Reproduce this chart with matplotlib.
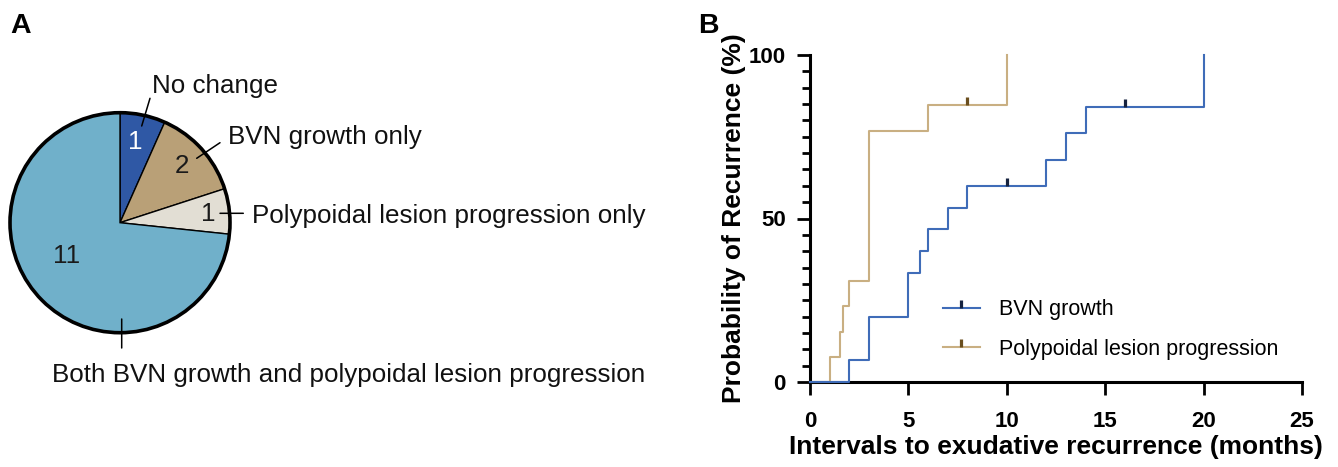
import matplotlib
matplotlib.use("Agg")
import matplotlib.pyplot as plt
from matplotlib.path import Path
from matplotlib.lines import Line2D
from matplotlib.patches import Circle
from matplotlib.ticker import MultipleLocator

plt.rcParams['font.family'] = ['Liberation Sans', 'DejaVu Sans']

# ---------------- data ----------------
pie_labels = ["No change", "BVN growth only",
              "Polypoidal lesion progression only",
              "Both BVN growth and polypoidal lesion progression"]
pie_counts = [1, 2, 1, 11]
pie_colors = ["#2F58A5", "#B9A077", "#E2DED4", "#70B0CA"]

bvn_times = [0, 2, 3, 5, 5.6, 6, 7, 8, 12, 13, 14, 20]
bvn_probs = [0, 6.67, 20, 33.3, 40, 46.7, 53.3, 60, 68, 76, 84, 100]
bvn_censor_t = [10, 16]
bvn_censor_p = [60, 84]

pol_times = [0, 1, 1.5, 1.7, 2, 3, 6, 10]
pol_probs = [0, 7.7, 15.4, 23.1, 30.8, 76.9, 84.6, 100]
pol_censor_t = [8]
pol_censor_p = [84.6]

series_names = ["BVN growth", "Polypoidal lesion progression"]
x_ticks = [0, 5, 10, 15, 20, 25]
y_ticks = [0, 50, 100]

W, H = 1338, 467
fig = plt.figure(figsize=(W / 100, H / 100), dpi=100)

# ---------------- panel A: pie ----------------
cx, cy, R = 120.0, 222.7, 110.0  # pixel geometry
axA = fig.add_axes([0, 0, 700 / W, 1])
axA.axis('off')

wedges, _ = axA.pie(pie_counts, colors=pie_colors, startangle=90,
                    counterclock=False, radius=1,
                    wedgeprops=dict(edgecolor='black', linewidth=1.0))
axA.set_xlim((0 - cx) / R, (700 - cx) / R)
axA.set_ylim((cy - H) / R, cy / R)
axA.set_aspect('auto')
axA.add_patch(Circle((0, 0), 1, fill=False, edgecolor='black', linewidth=2.6, zorder=5))

def px(x, y):
    return ((x - cx) / R, (cy - y) / R)

fs_pie = 18.7
num_pos = [px(135, 142), px(181.5, 166), px(208, 214), px(66.7, 256)]
num_col = ['white', '#1a1a1a', '#1a1a1a', '#1a1a1a']
for n, p, c in zip(pie_counts, num_pos, num_col):
    axA.text(p[0], p[1], str(n), ha='center', va='center', fontsize=fs_pie, color=c, zorder=6)

leaders = [(px(141.7, 126), px(150, 98.3)),
           (px(196.7, 158.3), px(220, 142.7)),
           (px(220, 213.3), px(243.3, 213.3)),
           (px(121.7, 319), px(121.7, 348))]
for a, b in leaders:
    axA.annotate('', xy=a, xytext=b,
                 arrowprops=dict(arrowstyle='-', color='black', lw=1.1,
                                 shrinkA=0, shrinkB=0), zorder=6)

lab_pos = [(px(151.5, 92.5), 'left'), (px(227.5, 144), 'left'),
           (px(252.5, 222.5), 'left'), (px(349, 382), 'center')]
for lab, (p, ha) in zip(pie_labels, lab_pos):
    axA.text(p[0], p[1], lab, ha=ha, va='baseline', fontsize=fs_pie, color='#111111')

fig.text(10 / W, 1 - 33 / H, "A", fontsize=20.5, fontweight='bold', va='baseline', ha='left')
fig.text(698 / W, 1 - 33 / H, "B", fontsize=20.5, fontweight='bold', va='baseline', ha='left')

# ---------------- panel B: KM curves ----------------
x0, x1, y0, y1 = 810, 1302, 382, 55
axB = fig.add_axes([x0 / W, (H - y0) / H, (x1 - x0) / W, (y0 - y1) / H])
axB.set_xlim(0, 25)
axB.set_ylim(0, 100)

blue, blue_dark = "#3F6CB8", "#16233F"
tan, tan_dark = "#C9AF82", "#6A4E1E"
cens = Path([(0, 0), (0, 1)])

axB.step(pol_times, pol_probs, where='post', color=tan, lw=1.5, clip_on=False, zorder=3)
axB.step(bvn_times, bvn_probs, where='post', color=blue, lw=1.5, clip_on=False, zorder=4)
axB.plot(pol_censor_t, pol_censor_p, ls='none', marker=cens, markersize=11,
         markeredgecolor=tan_dark, markeredgewidth=2.3, clip_on=False, zorder=5)
axB.plot(bvn_censor_t, bvn_censor_p, ls='none', marker=cens, markersize=11,
         markeredgecolor=blue_dark, markeredgewidth=2.3, clip_on=False, zorder=5)

for s in ['top', 'right']:
    axB.spines[s].set_visible(False)
for s in ['left', 'bottom']:
    axB.spines[s].set_linewidth(2.2)
    axB.spines[s].set_capstyle('projecting')

axB.set_xticks(x_ticks)
axB.set_yticks(y_ticks)
axB.yaxis.set_minor_locator(MultipleLocator(5))
axB.tick_params(axis='x', which='major', direction='out', length=9, width=2.0, pad=12,
                labelsize=16)
axB.tick_params(axis='y', which='major', direction='out', length=9.5, width=2.0, pad=8,
                labelsize=16)
axB.tick_params(axis='y', which='minor', direction='out', length=5.5, width=2.0)
for lab in axB.get_xticklabels() + axB.get_yticklabels():
    lab.set_fontweight('bold')

axB.set_xlabel("Intervals to exudative recurrence (months)", fontsize=19,
               fontweight='bold', labelpad=2)
axB.set_ylabel("Probability of Recurrence (%)", fontsize=19, fontweight='bold',
               labelpad=2)

handles = [Line2D([], [], color=blue, lw=1.5, marker=cens, markersize=11,
                  markeredgecolor=blue_dark, markeredgewidth=2.3),
           Line2D([], [], color=tan, lw=1.5, marker=cens, markersize=11,
                  markeredgecolor=tan_dark, markeredgewidth=2.3)]
fig.legend(handles, series_names, loc='center left',
           bbox_to_anchor=(943 / W, (H - 329.5) / H), frameon=False, fontsize=15.5,
           borderpad=0, borderaxespad=0, handlelength=1.7, handletextpad=0.9,
           labelspacing=0.85, numpoints=1)

fig.savefig("out.png", dpi=100)
